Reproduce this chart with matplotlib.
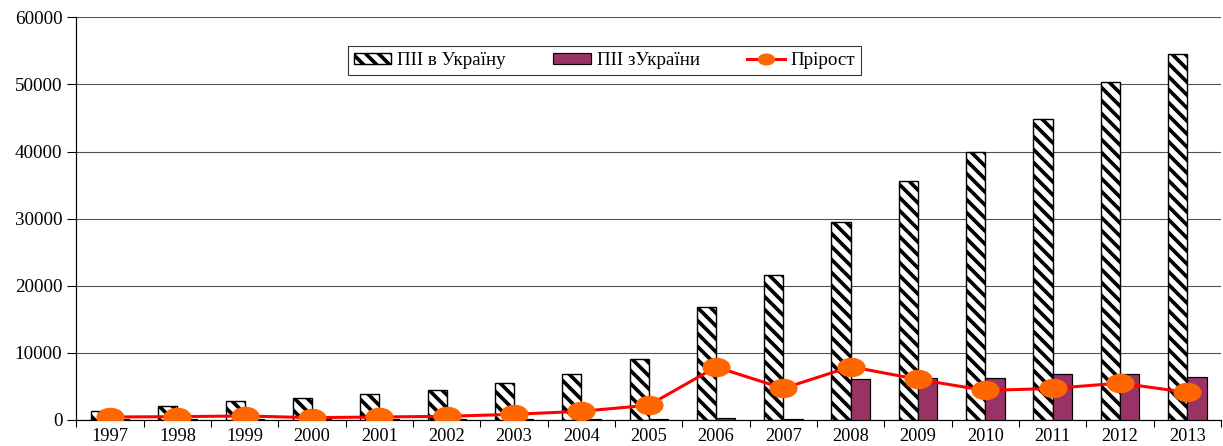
import numpy as np
import matplotlib.pyplot as plt
from matplotlib.path import Path
from matplotlib.lines import Line2D

years = ['1997', '1998', '1999', '2000', '2001', '2002', '2003', '2004', '2005',
         '2006', '2007', '2008', '2009', '2010', '2011', '2012', '2013']

# ПІІ в Україну
fdi_in = [1390, 2040, 2790, 3280, 3880, 4480, 5470, 6820, 9060,
          16890, 21600, 29500, 35600, 40000, 44800, 50300, 54500]
# ПІІ з України
fdi_out = [100, 120, 100, 170, 160, 140, 170, 200, 220,
           240, 220, 6100, 6200, 6250, 6850, 6900, 6450]
# Прірост
growth = [450, 500, 600, 350, 450, 550, 850, 1300, 2200,
          7900, 4700, 7950, 6050, 4400, 4700, 5500, 4100]

labels = ['ПІІ в Україну', 'ПІІ зУкраїни', 'Прірост']

dpi = 78
plt.rcParams['font.family'] = ['Liberation Serif', 'DejaVu Serif']
plt.rcParams['hatch.linewidth'] = 3.4

fig = plt.figure(figsize=(1223 / dpi, 446 / dpi), dpi=dpi)
ax = fig.add_axes([76.4 / 1223, 26 / 446, 1144.6 / 1223, 402.7 / 446])

x = np.arange(len(years))
w = 0.285

b1 = ax.bar(x - w / 2, fdi_in, w, color='white', edgecolor='black', hatch='\\\\',
            linewidth=1.3, zorder=3)
b2 = ax.bar(x + w / 2, fdi_out, w, color='#993366', edgecolor='black',
            linewidth=1.1, zorder=3)

# ellipse marker (wider than tall)
circ = Path.unit_circle()
ell = Path(circ.vertices * np.array([1.0, 0.68]), circ.codes)
ax.plot(x, growth, color='#ff0000', linewidth=2.8, marker=ell, markersize=25,
        markerfacecolor='#ff6600', markeredgecolor='#ff6600', zorder=4)
# smaller marker in the legend, like the original
l1 = Line2D([], [], color='#ff0000', linewidth=2.8, marker=ell, markersize=15,
            markerfacecolor='#ff6600', markeredgecolor='#ff6600')

ax.set_xlim(-0.5, len(years) - 0.5)
ax.set_ylim(0, 60000)
ax.set_yticks(np.arange(0, 60001, 10000))
ax.yaxis.grid(True, color='#505050', linewidth=1.0, zorder=0)
ax.set_axisbelow(True)

ax.set_xticks(x)
ax.set_xticklabels(years)
ax.set_xticks(np.arange(-0.5, len(years), 1), minor=True)
ax.tick_params(axis='x', which='major', length=0, pad=7, labelsize=17)
ax.tick_params(axis='x', which='minor', length=6, width=1, direction='out')
ax.tick_params(axis='y', length=8, width=1, direction='out', pad=5, labelsize=17.5)

for s in ['top', 'right']:
    ax.spines[s].set_visible(False)
for s in ['left', 'bottom']:
    ax.spines[s].set_linewidth(1.1)

leg = ax.legend([b1, b2, l1], labels,
                loc='center', bbox_to_anchor=(604.5 / 1223, 1 - 60.5 / 446),
                bbox_transform=fig.transFigure, ncol=3, frameon=True,
                fancybox=False, fontsize=17.5, handlelength=2.0, handleheight=0.55,
                columnspacing=2.5, handletextpad=0.3, borderpad=0.3, borderaxespad=0)
leg.get_frame().set_edgecolor('black')
leg.get_frame().set_linewidth(1.0)

fig.savefig('out.png', dpi=dpi)
